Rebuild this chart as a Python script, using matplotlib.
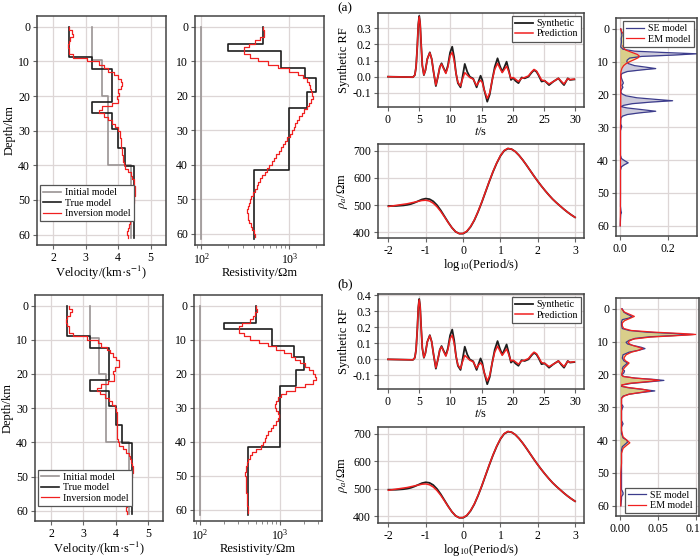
import numpy as np
import matplotlib
matplotlib.use("Agg")
import matplotlib.pyplot as plt
from matplotlib.ticker import FormatStrFormatter

plt.rcParams['font.family'] = ['Liberation Serif']
plt.rcParams['mathtext.fontset'] = 'stix'
plt.rcParams['axes.unicode_minus'] = False

# ---------------- data ----------------
depth_ticks = [0, 10, 20, 30, 40, 50, 60]

init_vel_bounds = [0, 9.6, 20.0, 40.0, 61.0]
init_vel = [3.2, 3.5, 3.7, 4.4]
true_vel_bounds = [0, 8.8, 12.3, 21.7, 25.0, 29.5, 35.0, 40.3, 61.0]
true_vel = [2.5, 3.2, 3.8, 3.2, 3.8, 4.0, 4.2, 4.5]

inv_vel_a = [2.50, 2.58, 2.60, 2.52, 2.47, 2.46, 2.48, 2.50, 2.62, 3.05,
             3.40, 3.55, 3.68, 3.88, 3.98, 4.08, 4.12, 4.10, 3.98, 4.03,
             3.97, 3.98, 3.80, 3.50, 3.40, 3.55, 3.68, 3.80, 3.90, 3.98,
             4.04, 4.06, 4.07, 4.08, 4.09, 4.11, 4.12, 4.14, 4.16, 4.18,
             4.22, 4.30, 4.38, 4.43, 4.47, 4.50, 4.52, 4.52, 4.51, 4.50,
             4.48, 4.46, 4.44, 4.43, 4.41, 4.40, 4.36, 4.33, 4.29, 4.28, 4.29]
inv_vel_b = [2.57, 2.64, 2.58, 2.50, 2.47, 2.48, 2.54, 2.56, 2.68, 3.10,
             3.45, 3.55, 3.72, 3.82, 3.92, 4.00, 4.10, 4.12, 3.98, 3.93,
             3.95, 3.96, 3.75, 3.55, 3.42, 3.52, 3.67, 3.80, 3.90, 3.97,
             4.02, 4.04, 4.05, 4.05, 4.05, 4.04, 4.03, 4.04, 4.05, 4.07,
             4.10, 4.22, 4.32, 4.40, 4.45, 4.48, 4.50, 4.53, 4.55, 4.52,
             4.49, 4.47, 4.45, 4.44, 4.42, 4.40, 4.38, 4.36, 4.34, 4.33, 4.34]

init_res = 100.0
init_res_depth = [0, 61.5]
true_res_bounds = [0, 5, 7, 12, 15, 19, 23.5, 41.5, 61.5]
true_res = [500, 200, 800, 1500, 2000, 1600, 1000, 400]

inv_res_a = [500, 515, 510, 470, 410, 345, 302, 305, 355, 440,
             570, 740, 980, 1250, 1430, 1580, 1650, 1700, 1740, 1800,
             1850, 1780, 1680, 1580, 1480, 1380, 1300, 1230, 1170, 1120,
             1070, 1010, 950, 900, 850, 800, 760, 710, 670, 630,
             590, 555, 525, 495, 470, 445, 425, 405, 385, 370,
             355, 345, 337, 333, 335, 340, 350, 365, 380, 395, 405]
inv_res_b = [500, 520, 495, 460, 420, 335, 305, 312, 355, 430,
             545, 720, 890, 1120, 1380, 1580, 1800, 2050, 2350, 2600,
             2750, 2850, 2600, 2050, 1550, 1200, 1050, 960, 900, 880,
             900, 960, 980, 960, 900, 830, 770, 715, 680, 650,
             610, 580, 500, 450, 420, 395, 385, 378, 375, 372,
             375, 375, 377, 380, 382, 385, 388, 390, 392, 395, 396]

rf_t = [0, 4.0, 4.3, 4.5, 4.7, 4.85, 5.0, 5.15, 5.3, 5.5, 5.75, 6.0, 6.3, 6.7,
        7.0, 7.3, 7.67, 8.0, 8.3, 8.58, 8.9, 9.27, 9.6, 9.95, 10.29, 10.6,
        10.9, 11.2, 11.62, 11.9, 12.3, 12.7, 13.1, 13.65, 14.2, 14.5, 14.83,
        15.1, 15.4, 15.9, 16.3, 16.7, 17.1, 17.55, 17.9, 18.3, 18.65, 19.0,
        19.35, 19.7, 20.05, 20.4, 20.9, 21.4, 21.9, 22.5, 23.0, 23.4, 23.8,
        24.1, 24.6, 25.1, 25.8, 26.5, 27.3, 27.8, 28.2, 28.8, 29.15, 29.85]
rf_syn = [0.0, -0.003, 0.01, 0.06, 0.19, 0.32, 0.377, 0.33, 0.21, 0.07, 0.01,
          0.04, 0.11, 0.151, 0.11, 0.03, -0.058, 0.0, 0.06, 0.083, 0.055,
          0.025, 0.07, 0.15, 0.186, 0.12, 0.02, -0.04, -0.066, -0.01, 0.079,
          0.03, 0.0, -0.012, -0.066, -0.03, 0.006, -0.02, -0.08, -0.155,
          -0.11, -0.02, 0.06, 0.114, 0.07, 0.03, 0.06, 0.093, 0.04, -0.02,
          -0.008, -0.025, -0.04, -0.005, -0.01, 0.0, 0.025, 0.041, 0.03, 0.01,
          -0.03, -0.025, -0.052, -0.03, -0.01, -0.035, -0.052, -0.01, -0.02,
          -0.017]
rf_pred = [0.0, -0.003, 0.01, 0.06, 0.19, 0.32, 0.372, 0.33, 0.21, 0.07, 0.012,
           0.04, 0.11, 0.148, 0.11, 0.03, -0.052, 0.0, 0.06, 0.078, 0.05,
           0.02, 0.06, 0.13, 0.151, 0.10, 0.02, -0.035, -0.058, -0.02, 0.025,
           0.01, -0.005, -0.015, -0.055, -0.035, -0.022, -0.035, -0.08, -0.135,
           -0.10, -0.02, 0.045, 0.083, 0.055, 0.025, 0.045, 0.065, 0.03, -0.01,
           -0.005, -0.015, -0.03, -0.01, -0.005, 0.005, 0.03, 0.045, 0.035,
           0.015, -0.02, -0.025, -0.045, -0.03, -0.01, -0.03, -0.045, -0.012,
           -0.018, -0.015]

log_period = [-2.0, -1.9, -1.8, -1.7, -1.6, -1.5, -1.4, -1.3, -1.2, -1.1,
              -1.0, -0.9, -0.8, -0.7, -0.6, -0.5, -0.4, -0.3, -0.2, -0.1,
              0.0, 0.1, 0.2, 0.3, 0.4, 0.5, 0.6, 0.7, 0.8, 0.9,
              1.0, 1.1, 1.2, 1.3, 1.4, 1.5, 1.6, 1.7, 1.8, 1.9,
              2.0, 2.1, 2.2, 2.3, 2.4, 2.5, 2.6, 2.7, 2.8, 2.9, 3.0]
rho_syn = [497, 497, 497, 498, 499, 501, 504, 509, 515, 521,
           524, 522, 514, 500, 481, 459, 437, 417, 402, 395,
           395, 403, 420, 444, 475, 510, 548, 586, 622, 654,
           681, 700, 708, 706, 697, 683, 666, 647, 627, 607,
           588, 570, 553, 537, 522, 509, 497, 485, 474, 464, 455]
rho_pred = [495, 497, 499, 501, 503, 505, 508, 511, 514, 517,
            518, 515, 507, 494, 477, 457, 436, 417, 402, 395,
            396, 404, 421, 445, 476, 511, 549, 587, 623, 655,
            682, 701, 709, 706, 697, 683, 666, 647, 627, 607,
            588, 570, 553, 537, 522, 509, 497, 485, 474, 464, 455]

se_depth_a = [0, 1, 2, 3, 4, 5, 5.5, 6.2, 6.8, 7.2, 7.6, 8.0, 8.4, 8.9, 9.5, 10,
              10.6, 11.2, 11.7, 12.1, 12.5, 13.0, 13.6, 14.2, 15, 15.8, 16.5,
              17.2, 17.8, 18.5, 19.2, 19.8, 20.4, 21.0, 21.5, 21.9, 22.3, 22.8,
              23.3, 23.7, 24.1, 24.6, 25.1, 25.6, 26.1, 26.6, 27.2, 28, 29,
              29.7, 30.2, 31, 33, 36, 38.5, 39.5, 40.2, 40.8, 41.4, 42, 43, 46,
              50, 54, 55.5, 56, 56.5, 58, 60]
se_prob_a = [0.003, 0.006, 0.008, 0.005, 0.006, 0.004, 0.003, 0.012, 0.06,
             0.18, 0.318, 0.22, 0.09, 0.04, 0.03, 0.028, 0.035, 0.06, 0.11,
             0.148, 0.09, 0.03, 0.008, 0.004, 0.006, 0.01, 0.014, 0.008, 0.012,
             0.006, 0.003, 0.008, 0.025, 0.07, 0.15, 0.218, 0.13, 0.05, 0.015,
             0.004, 0.03, 0.09, 0.148, 0.08, 0.03, 0.01, 0.004, 0.003, 0.003,
             0.007, 0.005, 0.002, 0.002, 0.002, 0.002, 0.006, 0.02, 0.034,
             0.018, 0.006, 0.002, 0.002, 0.002, 0.002, 0.004, 0.006, 0.003,
             0.002, 0.001]
em_depth_a = [0, 1, 1.8, 2.5, 3.2, 3.8, 4.5, 5.2, 5.8, 6.5, 7.2, 7.8, 8.3, 8.8,
              9.4, 10, 10.6, 11.2, 12, 13, 14, 16, 20, 25, 30, 40, 50, 60]
em_prob_a = [0.003, 0.008, 0.018, 0.03, 0.036, 0.03, 0.018, 0.012, 0.014,
             0.025, 0.05, 0.072, 0.08, 0.075, 0.058, 0.04, 0.025, 0.015, 0.008,
             0.004, 0.003, 0.003, 0.003, 0.003, 0.002, 0.002, 0.002, 0.001]

se_depth_b = [0, 1, 1.7, 2.3, 2.8, 3.3, 4, 5, 6, 6.6, 7.1, 7.5, 7.8, 8.1, 8.5,
              9.0, 9.6, 10.2, 10.7, 11.2, 11.7, 12.1, 12.6, 13.2, 14, 15, 15.8,
              16.5, 17.1, 17.7, 18.3, 18.9, 19.5, 20.1, 20.6, 21.1, 21.5, 21.8,
              22.2, 22.7, 23.2, 23.6, 24.0, 24.5, 25.0, 25.5, 26.0, 26.6, 27.2,
              28, 29, 29.7, 30.3, 31, 34, 35, 36, 38, 39.3, 40.0, 40.6, 41.2,
              42, 43, 46, 50, 55, 56, 56.5, 57.2, 58, 60]
se_prob_b = [0.003, 0.005, 0.01, 0.016, 0.012, 0.003, 0.002, 0.002, 0.003,
             0.012, 0.035, 0.07, 0.097, 0.075, 0.04, 0.02, 0.012, 0.008, 0.01,
             0.018, 0.028, 0.033, 0.025, 0.012, 0.004, 0.003, 0.005, 0.01,
             0.007, 0.004, 0.003, 0.006, 0.005, 0.002, 0.005, 0.02, 0.045,
             0.058, 0.04, 0.015, 0.003, 0.002, 0.01, 0.028, 0.046, 0.028, 0.012,
             0.004, 0.002, 0.002, 0.002, 0.004, 0.003, 0.002, 0.002, 0.004,
             0.002, 0.002, 0.004, 0.009, 0.01, 0.007, 0.003, 0.002, 0.002,
             0.002, 0.002, 0.004, 0.004, 0.002, 0.002, 0.001]
em_depth_b = [0, 1, 1.7, 2.3, 2.9, 3.6, 4.3, 5.2, 6.0, 6.6, 7.1, 7.5, 7.8, 8.1,
              8.6, 9.2, 9.8, 10.4, 11.0, 11.5, 12.1, 12.6, 13.2, 14, 15, 15.8,
              16.5, 17.2, 17.9, 18.6, 19.3, 20, 20.6, 21.1, 21.5, 21.8, 22.2,
              22.7, 23.2, 23.6, 24.0, 24.5, 25.0, 25.5, 26.0, 26.6, 27.3, 28,
              30, 33, 37, 39, 40, 40.8, 41.5, 42.5, 44, 47, 50, 55, 60]
em_prob_b = [0.002, 0.006, 0.013, 0.019, 0.013, 0.006, 0.003, 0.003, 0.005,
             0.015, 0.045, 0.08, 0.1, 0.08, 0.04, 0.018, 0.012, 0.011, 0.015,
             0.022, 0.03, 0.025, 0.015, 0.008, 0.005, 0.007, 0.012, 0.009,
             0.006, 0.004, 0.003, 0.002, 0.004, 0.02, 0.042, 0.052, 0.035,
             0.012, 0.002, 0.003, 0.012, 0.03, 0.04, 0.026, 0.012, 0.005, 0.002,
             0.002, 0.002, 0.002, 0.002, 0.004, 0.009, 0.013, 0.009, 0.004,
             0.002, 0.002, 0.001, 0.001, 0.001]

# ---------------- style ----------------
W, H = 700, 557
C_INIT = '#9a9494'
C_TRUE = '#1e1e1e'
C_RED = '#f02020'
C_SE = '#3c3c8c'
C_GRID = '#ddd6d6'
C_SPINE = '#444444'
TICK_FS = 8.5
LAB_FS = 9
LEG_FS = 7.2

fig = plt.figure(figsize=(W / 100, H / 100), dpi=100)


def add_ax(l, r, t, b):
    return fig.add_axes([l / W, 1 - b / H, (r - l) / W, (b - t) / H])


def style(ax):
    for s in ax.spines.values():
        s.set_color(C_SPINE)
        s.set_linewidth(1.1)
    ax.tick_params(direction='out', length=3, width=0.8, color='#666666',
                   labelsize=TICK_FS, pad=2)
    ax.tick_params(which='minor', length=2, width=0.6, color='#777777')
    ax.grid(True, color=C_GRID, linewidth=0.9)
    ax.set_axisbelow(True)


def steps(bounds, vals):
    b = np.asarray(bounds, float)
    v = np.asarray(vals, float)
    x = np.repeat(v, 2)
    y = np.column_stack([b[:-1], b[1:]]).ravel()
    return x, y


def legend(ax, loc, **kw):
    lg = ax.legend(loc=loc, fontsize=LEG_FS, frameon=True, fancybox=False,
                   edgecolor='#555555', framealpha=1, borderpad=0.3,
                   labelspacing=0.15, handlelength=1.8, handletextpad=0.4,
                   borderaxespad=0.3, **kw)
    lg.get_frame().set_linewidth(0.9)
    return lg


def velocity_panel(rect, inv, leg_top):
    ax = add_ax(*rect)
    style(ax)
    x, y = steps(init_vel_bounds, init_vel)
    ax.plot(x, y, color=C_INIT, lw=1.2, label='Initial model')
    x, y = steps(true_vel_bounds, true_vel)
    ax.plot(x, y, color=C_TRUE, lw=1.2, label='True model')
    x, y = steps(np.arange(len(inv) + 1), inv)
    ax.plot(x, y, color=C_RED, lw=0.9, label='Inversion model')
    ax.set_xlim(1.5, 5.47)
    ax.set_ylim(63.0, -3.1)
    ax.set_xticks([2, 3, 4, 5])
    ax.set_yticks(depth_ticks)
    ax.set_xlabel('Velocity/(km·s$^{-1}$)', fontsize=LAB_FS, labelpad=0)
    ax.set_ylabel('Depth/km', fontsize=LAB_FS, labelpad=2)
    legend(ax, 'upper left', bbox_to_anchor=(0.0, leg_top))
    return ax


def resist_panel(rect, inv, xlim):
    ax = add_ax(*rect)
    style(ax)
    ax.set_xscale('log')
    ax.plot([init_res, init_res], init_res_depth, color=C_INIT, lw=1.2)
    x, y = steps(true_res_bounds, true_res)
    ax.plot(x, y, color=C_TRUE, lw=1.2)
    x, y = steps(np.arange(len(inv) + 1), inv)
    ax.plot(x, y, color=C_RED, lw=0.9)
    ax.set_xlim(*xlim)
    ax.set_ylim(63.3, -3.1)
    ax.set_yticks(depth_ticks)
    ax.grid(False, which='minor')
    ax.set_xlabel('Resistivity/Ωm', fontsize=LAB_FS, labelpad=0)
    return ax


def rf_panel(rect, ylim, yticks):
    ax = add_ax(*rect)
    style(ax)
    ax.plot(rf_t, rf_syn, color=C_TRUE, lw=1.3, label='Synthetic')
    ax.plot(rf_t, rf_pred, color=C_RED, lw=1.1, label='Prediction')
    ax.set_xlim(-1.6, 31.4)
    ax.set_ylim(*ylim)
    ax.set_xticks([0, 5, 10, 15, 20, 25, 30])
    ax.set_yticks(yticks)
    ax.yaxis.set_major_formatter(FormatStrFormatter('%.1f'))
    ax.set_xlabel('$t$/s', fontsize=LAB_FS, labelpad=0)
    ax.set_ylabel('Synthetic RF', fontsize=LAB_FS, labelpad=2)
    legend(ax, 'upper right')
    return ax


def rho_panel(rect, ylim):
    ax = add_ax(*rect)
    style(ax)
    ax.plot(log_period, rho_syn, color=C_TRUE, lw=1.3)
    ax.plot(log_period, rho_pred, color=C_RED, lw=1.1)
    ax.set_xlim(-2.28, 3.24)
    ax.set_ylim(*ylim)
    ax.set_xticks([-2, -1, 0, 1, 2, 3])
    ax.set_yticks([400, 500, 600, 700])
    ax.set_xlabel('log$_{10}$(Period/s)', fontsize=LAB_FS, labelpad=0)
    ax.set_ylabel(r'$\rho_a$/Ωm', fontsize=LAB_FS, labelpad=2)
    return ax


def hist_panel(rect, sd, sp, ed, ep, xlim, xticks, fmt, loc):
    ax = add_ax(*rect)
    style(ax)
    ax.fill_betweenx(sd, 0, sp, color='#928db0', alpha=0.45, lw=0)
    ax.fill_betweenx(ed, 0, ep, color='#e6d23a', alpha=0.5, lw=0)
    ax.plot(sp, sd, color=C_SE, lw=0.9, label='SE model')
    ax.plot(ep, ed, color=C_RED, lw=0.9, label='EM model')
    ax.set_xlim(*xlim)
    ax.set_ylim(63.1, -3.3)
    ax.set_xticks(xticks)
    ax.set_yticks(depth_ticks)
    ax.xaxis.set_major_formatter(FormatStrFormatter(fmt))
    legend(ax, loc)
    return ax


# top row (a)
velocity_panel((37, 166, 16, 245), inv_vel_a, 0.275)
resist_panel((195, 324, 16, 245), inv_res_a, (85, 2470))
rf_panel((378, 584, 13, 107), (-0.188, 0.395), [-0.1, 0.0, 0.1, 0.2, 0.3])
rho_panel((378, 584, 144, 238), (379, 725))
hist_panel((616, 697, 18, 236), se_depth_a, se_prob_a, em_depth_a, em_prob_a,
           (-0.0166, 0.319), [0.0, 0.2], '%.1f', 'upper right')

# bottom row (b)
velocity_panel((35, 163, 295, 521), inv_vel_b, 0.24)
resist_panel((194, 322, 295, 521), inv_res_b, (84, 3400))
rf_panel((378, 584, 294, 389), (-0.185, 0.408), [-0.1, 0.0, 0.1, 0.2, 0.3, 0.4])
rho_panel((378, 584, 427, 523), (376, 725))
hist_panel((616, 699, 298, 516), se_depth_b, se_prob_b, em_depth_b, em_prob_b,
           (-0.0053, 0.1044), [0.0, 0.05, 0.10], '%.2f', 'lower right')

fig.text(337 / W, 1 - 8 / H, '(a)', fontsize=9.5, ha='left', va='center')
fig.text(337 / W, 1 - 284 / H, '(b)', fontsize=9.5, ha='left', va='center')

fig.savefig('out.png', dpi=100)
